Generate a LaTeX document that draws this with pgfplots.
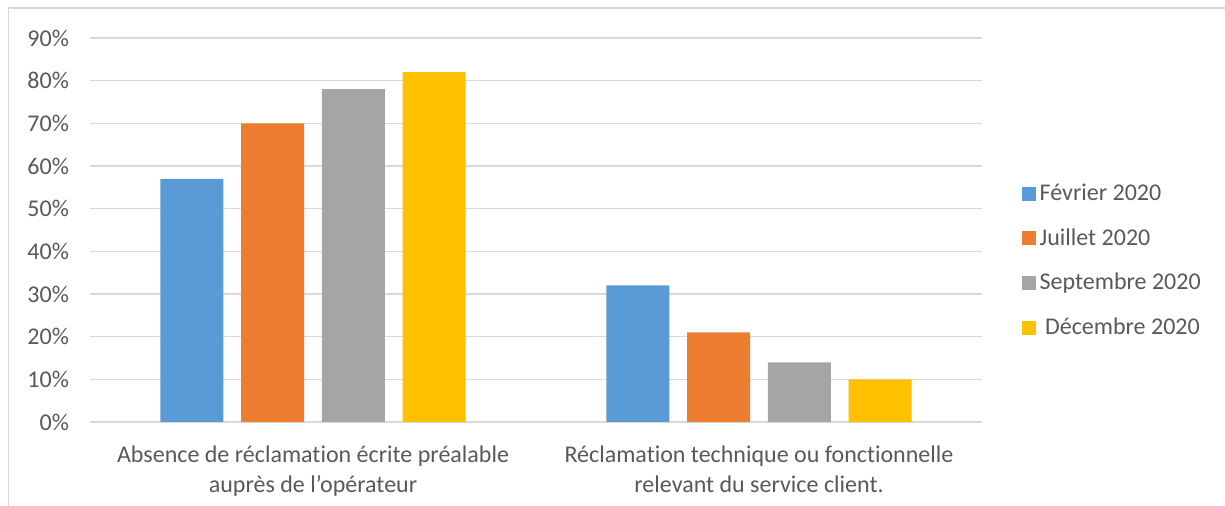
\documentclass[border=0pt]{standalone}
\usepackage{fontspec}
\setmainfont{Carlito}[Ligatures=NoCommon]
\usepackage{pgfplots}
\pgfplotsset{compat=1.18}

\definecolor{cBlue}{HTML}{5B9BD5}
\definecolor{cOrange}{HTML}{ED7D31}
\definecolor{cGray}{HTML}{A5A5A5}
\definecolor{cYellow}{HTML}{FFC000}
\definecolor{txt}{HTML}{595959}
\definecolor{gridc}{HTML}{D9D9D9}

\begin{document}
\begin{tikzpicture}
\useasboundingbox (0,0) rectangle (612.5pt,253pt);
\fill[white] (0,0) rectangle (612.5pt,253pt);
% outer chart frame (left and top edges visible)
\draw[gridc, line width=0.7pt] (4.3pt,0) -- (4.3pt,249pt) -- (612.5pt,249pt);
\begin{axis}[
    at={(45pt,42pt)}, anchor=south west,
    scale only axis,
    width=446pt, height=192pt,
    ybar,
    xmin=-0.5, xmax=1.5,
    ymin=0, ymax=90,
    xtick={0,1},
    xticklabels={{Absence de réclamation écrite préalable\\auprès de l’opérateur},
                 {Réclamation technique ou fonctionnelle\\relevant du service client.}},
    ytick={0,10,...,90},
    yticklabel={\pgfmathprintnumber[assume math mode=true]{\tick}\%},
    major tick length=0pt,
    axis line style={draw=none},
    ymajorgrids,
    grid style={gridc, line width=0.75pt},
    tick label style={text=txt},
    yticklabel style={font=\fontsize{12}{14.5}\selectfont, xshift=-7pt},
    xticklabel style={font=\fontsize{12}{15}\selectfont, align=center, yshift=-8.5pt},
    bar width=0.141,
    legend style={at={(1.044,0.42)}, anchor=west, draw=none, fill=none,
        font=\fontsize{12}{14}\selectfont, text=txt,
        row sep=8.5pt, inner sep=0pt},
    legend cell align=left,
    legend image code/.code={\fill[#1] (0pt,-3.5pt) rectangle (7pt,3.5pt);},
]
\addplot[fill=cBlue, draw=none, bar shift=-0.2715] coordinates {(0,57) (1,32)};
\addplot[fill=cOrange, draw=none, bar shift=-0.0905] coordinates {(0,70) (1,21)};
\addplot[fill=cGray, draw=none, bar shift=0.0905] coordinates {(0,78) (1,14)};
\addplot[fill=cYellow, draw=none, bar shift=0.2715] coordinates {(0,82) (1,10)};
\legend{Février 2020, Juillet 2020, Septembre 2020, \ Décembre 2020}
\end{axis}
\end{tikzpicture}
\end{document}
